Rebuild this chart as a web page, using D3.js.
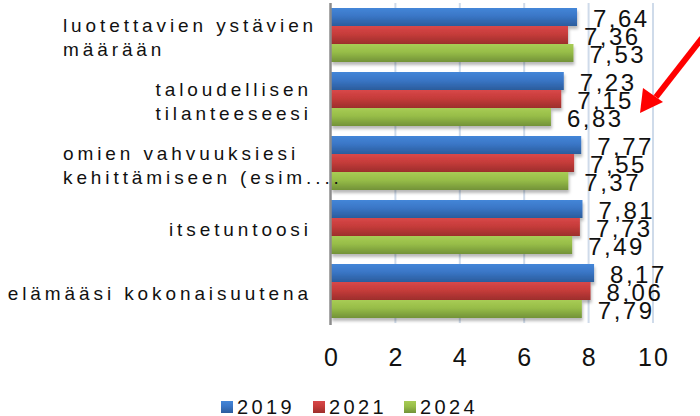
<!DOCTYPE html>
<html>
<head>
<meta charset="utf-8">
<script src="https://cdn.jsdelivr.net/npm/d3@7"></script>
<style>
  html, body { margin: 0; padding: 0; background: #fff; }
  svg { display: block; }
  text { font-family: "Liberation Sans", Arial, sans-serif; fill: #111; }
</style>
</head>
<body>
<svg id="chart" width="700" height="416"></svg>
<script>
// ---- data ----
const categories = [
  ["luotettavien ystävien", "määrään"],
  ["taloudellisen", "tilanteeseesi"],
  ["omien vahvuuksiesi", "kehittämiseen (esim...."],
  ["itsetuntoosi"],
  ["elämääsi kokonaisuutena"]
];
const seriesNames = ["2019", "2021", "2024"];
const values2019 = [7.64, 7.23, 7.77, 7.81, 8.17];
const values2021 = [7.36, 7.15, 7.55, 7.73, 8.06];
const values2024 = [7.53, 6.83, 7.37, 7.49, 7.79];
const labels2019 = ["7,64", "7,23", "7,77", "7,81", "8,17"];
const labels2021 = ["7,36", "7,15", "7,55", "7,73", "8,06"];
const labels2024 = ["7,53", "6,83", "7,37", "7,49", "7,79"];
const tickValues = [0, 2, 4, 6, 8, 10];

// ---- setup ----
const svg = d3.select("#chart");
const colors = {
  "2019": ["#4486d8", "#3a76c6", "#2b5c9c"],
  "2021": ["#d8484a", "#c63c3a", "#9c2e2c"],
  "2024": ["#a8cc55", "#97bd48", "#729238"]
};
const defs = svg.append("defs");
seriesNames.forEach(s => {
  const g = defs.append("linearGradient").attr("id", "g" + s)
    .attr("x1", 0).attr("y1", 0).attr("x2", 0).attr("y2", 1);
  g.append("stop").attr("offset", "0%").attr("stop-color", colors[s][0]);
  g.append("stop").attr("offset", "45%").attr("stop-color", colors[s][1]);
  g.append("stop").attr("offset", "100%").attr("stop-color", colors[s][2]);
});
const f = defs.append("filter").attr("id", "shadow")
  .attr("x", "-5%").attr("y", "-20%").attr("width", "115%").attr("height", "160%");
f.append("feDropShadow").attr("dx", 1).attr("dy", 3).attr("stdDeviation", 1.6)
  .attr("flood-color", "#000").attr("flood-opacity", 0.28);

const x = d3.scaleLinear().domain([0, 10]).range([331, 653]);
const y0 = d3.scaleBand().domain(d3.range(categories.length)).range([3, 323])
  .paddingInner(0.15625).paddingOuter(0.078125);
const y1 = d3.scaleBand().domain(seriesNames).range([0, y0.bandwidth()]);

const seriesVals = { "2019": values2019, "2021": values2021, "2024": values2024 };
const seriesLabs = { "2019": labels2019, "2021": labels2021, "2024": labels2024 };

// gridlines
svg.append("g").selectAll("line").data(tickValues.filter(t => t > 0)).join("line")
  .attr("x1", d => x(d)).attr("x2", d => x(d))
  .attr("y1", 3).attr("y2", 323)
  .attr("stroke", "#cfdbea").attr("stroke-width", 2);

// bars
const groups = svg.append("g").selectAll("g").data(categories).join("g")
  .attr("transform", (d, i) => `translate(0,${y0(i)})`);
seriesNames.forEach(s => {
  groups.append("rect")
    .attr("x", x(0))
    .attr("y", y1(s))
    .attr("width", (d, i) => x(seriesVals[s][i]) - x(0))
    .attr("height", y1.bandwidth())
    .attr("fill", `url(#g${s})`)
    .attr("filter", "url(#shadow)");
});

// axis line
svg.append("line").attr("x1", x(0) - 0.5).attr("x2", x(0) - 0.5)
  .attr("y1", 3).attr("y2", 325).attr("stroke", "#8c8c8c").attr("stroke-width", 2.5);

// value labels
seriesNames.forEach(s => {
  groups.append("text")
    .attr("x", (d, i) => x(seriesVals[s][i]) + 16)
    .attr("y", y1(s) + y1.bandwidth() / 2 + 10)
    .attr("font-size", 24)
    .attr("letter-spacing", 2.5)
    .text((d, i) => seriesLabs[s][i]);
});

// category labels
const labelRight = 308, wrapWidth = 245, lineH = 23.5, ls = 3.9;
groups.each(function(lines, i) {
  const g = d3.select(this);
  const cy = y0.bandwidth() / 2;
  const t = g.append("text").attr("font-size", 19).attr("letter-spacing", ls);
  const tsp = lines.map((ln, k) => t.append("tspan").text(ln)
    .attr("y", cy + 9.2 + (k - (lines.length - 1) / 2) * lineH));
  const widths = tsp.map(ts => ts.node().getComputedTextLength() - ls);
  if (lines.length === 1) {
    tsp[0].attr("x", labelRight - widths[0]);
  } else {
    const w = Math.min(d3.max(widths), wrapWidth);
    tsp.forEach(ts => ts.attr("x", labelRight - w));
  }
});

// x tick labels
svg.append("g").selectAll("text").data(tickValues).join("text")
  .attr("x", d => x(d) + 1)
  .attr("y", 366)
  .attr("text-anchor", "middle")
  .attr("font-size", 25)
  .attr("letter-spacing", 2)
  .text(d => d);

// legend
const legendX = [221, 313, 404];
const leg = svg.append("g").selectAll("g").data(seriesNames).join("g")
  .attr("transform", (d, i) => `translate(${legendX[i]},0)`);
leg.append("rect").attr("x", 0).attr("y", 401).attr("width", 12).attr("height", 12)
  .attr("fill", d => `url(#g${d})`);
leg.append("text").attr("x", 16).attr("y", 414)
  .attr("font-size", 20).attr("letter-spacing", 3.4)
  .text(d => d);

// red arrow annotation
svg.append("line").attr("x1", 702).attr("y1", 38).attr("x2", 656).attr("y2", 97)
  .attr("stroke", "#ff0000").attr("stroke-width", 6);
svg.append("path").attr("d", "M640,113 L643,88 L663,102 Z").attr("fill", "#ff0000");
</script>
</body>
</html>
